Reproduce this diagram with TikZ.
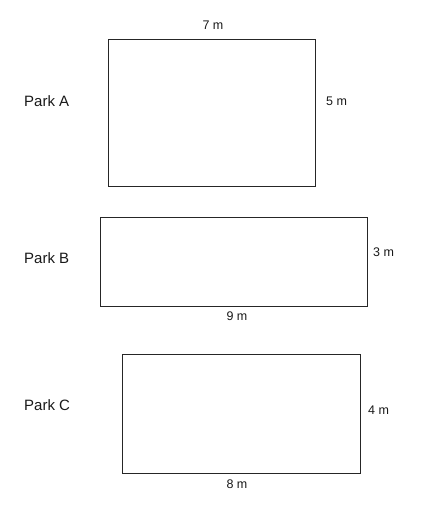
\documentclass[tikz,border=0pt]{standalone}
\usepackage{fontspec}
\setmainfont{Liberation Sans}
\begin{document}
\begin{tikzpicture}[x=1pt,y=-1pt,
  park/.style={draw=black!85,line width=1.8pt,inner sep=0pt,anchor=north west},
  lbl/.style={font=\fontsize{15}{17}\selectfont,text=black!90,inner sep=0pt},
  side/.style={font=\fontsize{12.5}{14}\selectfont,text=black!90,inner sep=0pt}]
\useasboundingbox (0,0) rectangle (432,512);
% Park A
\node[park,minimum width=207pt,minimum height=147pt] (A) at (107.5,38.5) {};
\node[lbl,anchor=west] (LA) at (24,101) {Park A};
\node[side] (A7) at (213,25) {7 m};
\node[side,anchor=west] (A5) at (326,101) {5 m};
% Park B
\node[park,minimum width=267pt,minimum height=89pt] (B) at (99.5,216.5) {};
\node[lbl,anchor=west] (LB) at (24,258) {Park B};
\node[side,anchor=west] (B3) at (373,252) {3 m};
\node[side] (B9) at (237,316) {9 m};
% Park C
\node[park,minimum width=238pt,minimum height=119pt] (C) at (121.5,353.5) {};
\node[lbl,anchor=west] (LC) at (24,405) {Park C};
\node[side,anchor=west] (C4) at (368,410) {4 m};
\node[side] (C8) at (237,484) {8 m};
\end{tikzpicture}
\end{document}
